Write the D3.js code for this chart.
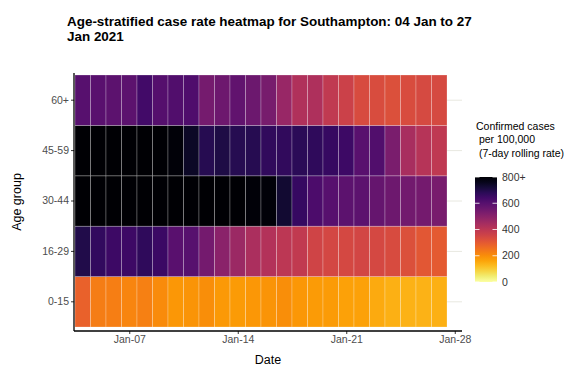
<!DOCTYPE html>
<html><head><meta charset="utf-8">
<script src="https://cdn.jsdelivr.net/npm/d3@7"></script>
<style>
html,body{margin:0;padding:0;background:#fff;}
svg{display:block;font-family:"Liberation Sans",Arial,sans-serif;}
</style></head>
<body><svg id="chart" width="581" height="372"></svg>
<script>
const dates = ["2021-01-04","2021-01-05","2021-01-06","2021-01-07","2021-01-08","2021-01-09","2021-01-10","2021-01-11",
  "2021-01-12","2021-01-13","2021-01-14","2021-01-15","2021-01-16","2021-01-17","2021-01-18","2021-01-19",
  "2021-01-20","2021-01-21","2021-01-22","2021-01-23","2021-01-24","2021-01-25","2021-01-26","2021-01-27"];
const ageGroups = ["0-15","16-29","30-44","45-59","60+"];
const rate0_15  = [282,230,228,215,222,205,182,188,200,180,178,184,188,200,182,178,176,168,166,152,142,140,138,143];
const rate16_29 = [700,668,650,648,672,652,595,600,543,500,465,432,418,398,385,355,345,342,348,342,335,325,305,300];
const rate30_44 = [850,880,905,930,950,960,940,920,900,870,830,790,788,730,662,620,598,590,588,570,555,545,543,532];
const rate45_59 = [880,905,920,935,910,860,790,745,690,705,690,688,670,670,680,675,660,650,595,610,530,440,410,392];
const rate60    = [600,595,590,590,640,602,612,615,540,555,580,558,535,470,425,428,390,365,335,332,325,332,338,340];
const xTicks = ["2021-01-07","2021-01-14","2021-01-21","2021-01-28"];
const legendTicks = [0,200,400,600,800];
const legendLabels = ["0","200","400","600","800+"];

const seriesByGroup = {"0-15":rate0_15,"16-29":rate16_29,"30-44":rate30_44,"45-59":rate45_59,"60+":rate60};
const parse = d3.utcParse("%Y-%m-%d");
const DAY = 864e5;
const cells = [];
ageGroups.forEach(g => seriesByGroup[g].forEach((v,i) => cells.push({group:g, date:parse(dates[i]), value:v})));

const svg = d3.select("#chart");
const panel = {left:74, right:462, top:73, bottom:331};

const firstDate = parse(dates[0]), lastDate = parse(dates[dates.length-1]);
const x = d3.scaleUtc()
  .domain([new Date(+firstDate - DAY/2), new Date(+lastDate + DAY/2)])
  .range([75, 447]);
const y = d3.scaleBand().domain(ageGroups).range([327, 75]).padding(0);
const color = d3.scaleSequential(t => d3.interpolateInferno(1 - t)).domain([0,800]).clamp(true);

// gridlines
svg.append("g").selectAll("line").data(ageGroups).join("line")
  .attr("x1", panel.left).attr("x2", panel.right)
  .attr("y1", d => y(d) + y.bandwidth()/2).attr("y2", d => y(d) + y.bandwidth()/2)
  .attr("stroke", "#e8e8e0").attr("stroke-width", 1);

// tiles
const tileW = x(new Date(+firstDate + DAY)) - x(firstDate);
svg.append("g").selectAll("rect").data(cells).join("rect")
  .attr("x", d => x(d.date) - tileW/2)
  .attr("y", d => y(d.group))
  .attr("width", tileW)
  .attr("height", y.bandwidth())
  .attr("fill", d => color(d.value))
  .attr("stroke", "rgba(255,255,255,0.3)")
  .attr("stroke-width", 0.8);

// x axis
const xAxis = d3.axisBottom(x)
  .tickValues(xTicks.map(parse))
  .tickFormat(d3.utcFormat("%b-%d"))
  .tickSize(3).tickPadding(2);
const gx = svg.append("g").attr("transform", `translate(0,${panel.bottom})`).call(xAxis);
gx.select(".domain").remove();
gx.append("line").attr("x1", panel.left).attr("x2", panel.right).attr("y1",0).attr("y2",0)
  .attr("stroke","#000").attr("stroke-width",1.3);
gx.selectAll(".tick line").attr("stroke","#333");
gx.selectAll(".tick text").attr("fill","#4d4d4d").style("font-size","10.5px")
  .style("font-family",'"Liberation Sans",Arial,sans-serif');

// y axis
const yAxis = d3.axisLeft(y).tickSize(3).tickPadding(2);
const gy = svg.append("g").attr("transform", `translate(${panel.left},0)`).call(yAxis);
gy.select(".domain").remove();
gy.append("line").attr("x1",0).attr("x2",0).attr("y1",panel.top).attr("y2",panel.bottom)
  .attr("stroke","#000").attr("stroke-width",1.3);
gy.selectAll(".tick line").attr("stroke","#333");
gy.selectAll(".tick text").attr("fill","#4d4d4d").style("font-size","10.5px")
  .style("font-family",'"Liberation Sans",Arial,sans-serif');

// axis titles
svg.append("text").attr("x", (panel.left+panel.right)/2).attr("y", 364)
  .attr("text-anchor","middle").style("font-size","12.5px").attr("fill","#000").text("Date");
svg.append("text").attr("transform", `translate(21,${(panel.top+panel.bottom)/2}) rotate(-90)`)
  .attr("text-anchor","middle").style("font-size","12.5px").attr("fill","#000").text("Age group");

// title
const t1 = svg.append("text").attr("x",67).attr("y",26).style("font-weight","bold").style("font-size","14px")
  .text("Age-stratified case rate heatmap for Southampton: 04 Jan to 27");
const w = t1.node().getComputedTextLength();
const fs = 14 * 405 / w;
t1.style("font-size", fs + "px");
svg.append("text").attr("x",67).attr("y",41).style("font-weight","bold").style("font-size", fs + "px")
  .text("Jan 2021");

// legend
const lg = svg.append("g");
const legTitle = ["Confirmed cases"," per 100,000"," (7-day rolling rate)"];
lg.append("text").attr("x",476).attr("y",130).style("font-size","10.5px").attr("fill","#000")
  .selectAll("tspan").data(legTitle).join("tspan")
  .attr("x",476).attr("dy",(d,i)=> i===0 ? 0 : 13.3)
  .attr("xml:space","preserve").style("white-space","pre").text(d => d);

const ly = d3.scaleLinear().domain([0,800]).range([282,177]);
const defs = svg.append("defs");
const grad = defs.append("linearGradient").attr("id","lgrad").attr("x1",0).attr("y1",1).attr("x2",0).attr("y2",0);
d3.range(0, 1.0001, 0.05).forEach(t => grad.append("stop").attr("offset", t).attr("stop-color", color(t*800)));
lg.append("rect").attr("x",475).attr("y",ly(800)).attr("width",22).attr("height",ly(0)-ly(800)).attr("fill","url(#lgrad)");
legendTicks.forEach((v,i) => {
  lg.append("line").attr("x1",475).attr("x2",479.5).attr("y1",ly(v)).attr("y2",ly(v)).attr("stroke","#fff").attr("stroke-opacity",0.8);
  lg.append("line").attr("x1",492.5).attr("x2",497).attr("y1",ly(v)).attr("y2",ly(v)).attr("stroke","#fff").attr("stroke-opacity",0.8);
  lg.append("text").attr("x",502).attr("y",ly(v)).attr("dy","0.35em").style("font-size","10.5px")
    .attr("fill","#333").text(legendLabels[i]);
});
</script></body></html>
